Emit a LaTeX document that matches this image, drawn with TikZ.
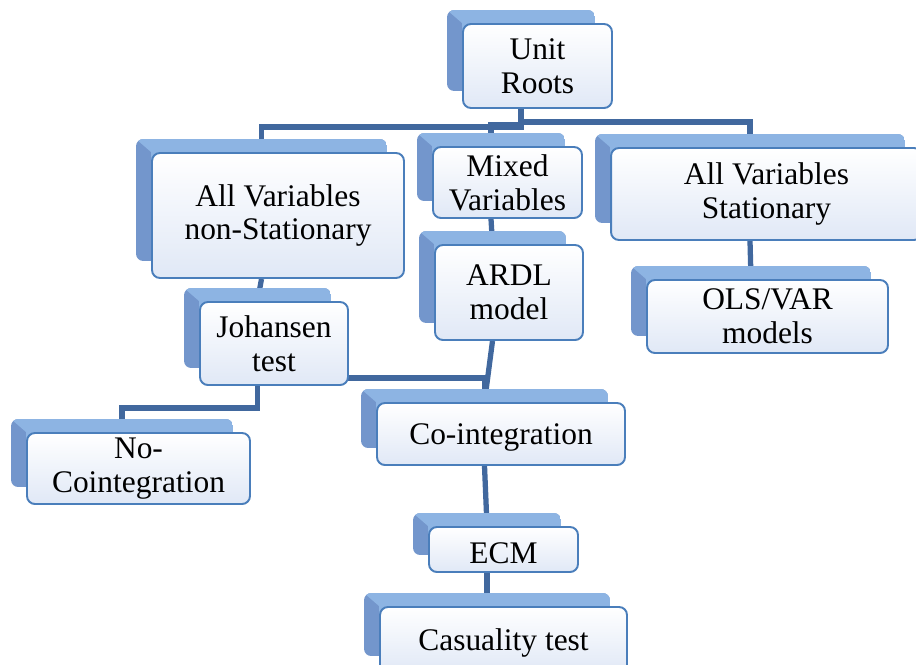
\documentclass[tikz,border=0pt]{standalone}
\usepackage{fontspec}
\setmainfont{Liberation Serif}
\definecolor{boxline}{RGB}{74,126,187}
\definecolor{boxlow}{RGB}{224,232,246}
\definecolor{tablight}{RGB}{141,180,227}
\definecolor{tabdark}{RGB}{115,150,204}
\definecolor{linkblue}{RGB}{65,104,158}
\pgfdeclarelayer{links}
\pgfdeclarelayer{tabs}
\pgfsetlayers{links,tabs,main}
\tikzset{
  stage/.style={draw=boxline, line width=1.1pt, rounded corners=4.5pt,
    top color=white, bottom color=boxlow, align=center, inner sep=0pt,
    font=\fontsize{17.9}{19.2}\selectfont,
    execute at begin node={\rule{0pt}{16pt}}},
  link/.style={draw=linkblue, line width=3pt},
  tabshift/.style={xshift=-0.33cm}
}
% blue tab behind a stage box
\newcommand\tabfill[1]{%
  \begin{scope}
    \clip[rounded corners=4pt] ([shift={(-15,-13)}]#1.north west) rectangle ([shift={(-18,-18)}]#1.south east);
    \fill[tabdark] ([shift={(-15,-13)}]#1.north west) rectangle ([shift={(-18,-18)}]#1.south east);
    \fill[tablight] ([shift={(-15,-13)}]#1.north west) -- ([shift={(-18,-13)}]#1.north east)
      -- ([shift={(-18,-18)}]#1.south east) -- ([shift={(0,-18)}]#1.south west) -- (#1.north west) -- cycle;
  \end{scope}}
\begin{document}
\begin{tikzpicture}[x=0.02cm,y=-0.02cm]
\useasboundingbox (0,0) rectangle (916,664);

% stages
\node[stage, minimum width=2.98cm, minimum height=1.68cm] (ur) at (537.5,66) {Unit\\Roots};
\node[stage, minimum width=5.04cm, minimum height=2.50cm] (nonstat) at (278,215.5) {All Variables\\non-Stationary};
\node[stage, minimum width=2.98cm, minimum height=1.42cm] (mixed) at (507.5,182.5) {Mixed\\Variables};
\node[stage, minimum width=2.96cm, minimum height=1.90cm] (ardl) at (509,292.5) {ARDL\\model};
\node[stage, minimum width=6.22cm, minimum height=1.84cm] (stat) at (766.5,194) {All Variables\\Stationary};
\node[stage, minimum width=4.82cm, minimum height=1.46cm] (ols) at (767.5,316.5) {OLS/VAR\\models};
\node[stage, minimum width=2.96cm, minimum height=1.66cm] (joh) at (274,343.5) {Johansen\\test};
\node[stage, minimum width=4.46cm, minimum height=1.42cm] (nocoint) at (138.5,468.5) {No-\\Cointegration};
\node[stage, minimum width=4.96cm, minimum height=1.24cm] (coint) at (501,434) {Co-integration};
\node[stage, minimum width=2.98cm, minimum height=0.90cm] (ecm) at (503.5,549.5) {ECM};
\node[stage, minimum width=4.94cm, minimum height=1.32cm] (cas) at (503.5,640) {Casuality test};

\begin{pgfonlayer}{tabs}
\foreach \n in {ur,nonstat,mixed,ardl,stat,ols,joh,nocoint,coint,ecm,cas} {
  \tabfill{\n}
}
\end{pgfonlayer}

\begin{pgfonlayer}{links}
\draw[link] ([tabshift]ur.south) -- ++(0,18) -| ([tabshift]nonstat.north);
\draw[link] ([tabshift]ur.south) -- ++(0,13) -| ([tabshift]stat.north);
\draw[link] ([tabshift]ur.south) -- ++(0,16) -| ([tabshift]mixed.north);
\draw[link] ([tabshift]nonstat.south) -- ([tabshift]joh.north);
\draw[link] ([tabshift]mixed.south) -- ([tabshift]ardl.north);
\draw[link] ([tabshift]stat.south) -- ([tabshift]ols.north);
\draw[link] ([tabshift]joh.south) -- ++(0,22) -| ([tabshift]nocoint.north);
\draw[link] ([tabshift]joh.south) -- ++(0,-8) -| ([tabshift]coint.north);
\draw[link] ([tabshift]ardl.south) -- ([tabshift]coint.north);
\draw[link] ([tabshift]coint.south) -- ([tabshift]ecm.north);
\draw[link] ([tabshift]ecm.south) -- ([tabshift]cas.north);
\end{pgfonlayer}
\end{tikzpicture}
\end{document}
